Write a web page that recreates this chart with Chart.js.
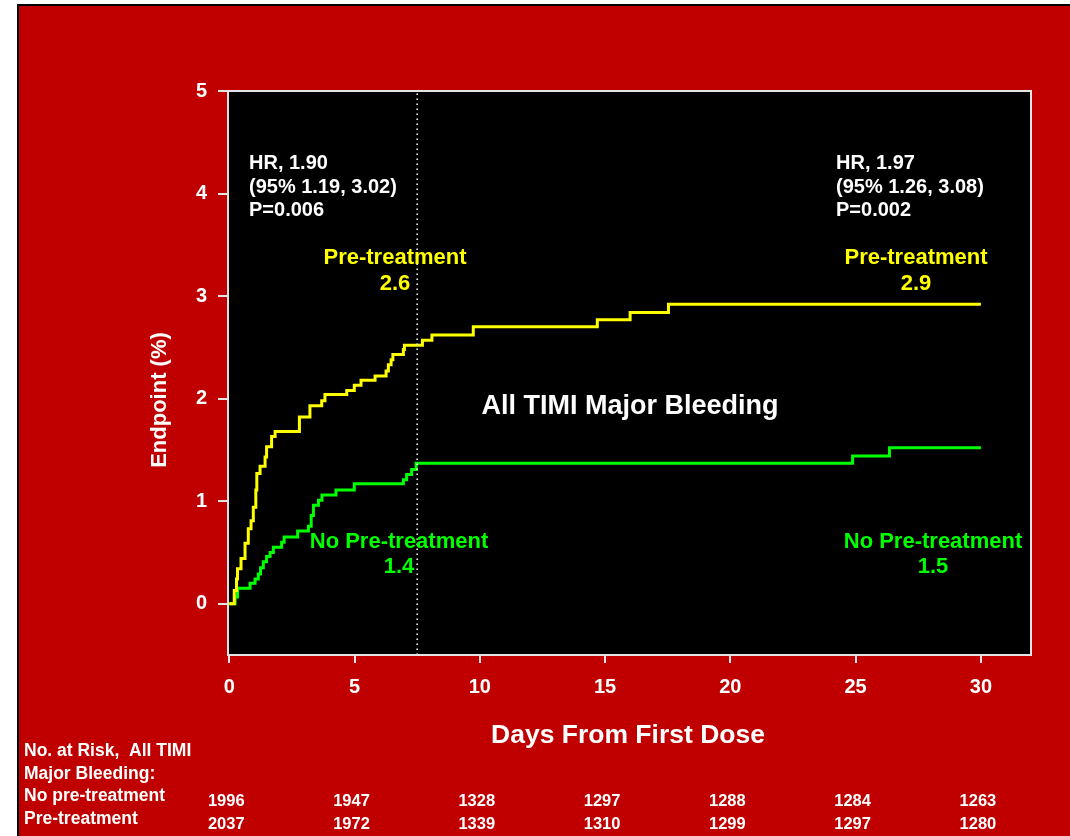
<!DOCTYPE html>
<html>
<head>
<meta charset="utf-8">
<title>All TIMI Major Bleeding</title>
<script src="https://cdn.jsdelivr.net/npm/chart.js@4.4.1/dist/chart.umd.min.js"></script>
<style>
    html, body { margin: 0; padding: 0; background: #fff; overflow: hidden; }
    #frame { position: absolute; left: 17px; top: 4px; width: 1070px; height: 840px; background: #c00000; border-left: 2px solid #000; border-top: 2px solid #000; }
    #wrap { position: absolute; left: 0; top: 0; width: 1070px; height: 836px; }
</style>
</head>
<body>
<div id="frame"></div>
<div id="wrap"><canvas id="kmChart" width="1070" height="836"></canvas></div>
<script>
// Kaplan-Meier steps, pre-treatment arm (days, cumulative %)
const preDays = [0, 0.2, 0.29, 0.33, 0.47, 0.63, 0.76, 0.87, 0.96, 1.06, 1.1, 1.23, 1.43, 1.49, 1.69, 1.83,
    2.8, 3.22, 3.69, 3.82, 4.69, 4.99, 5.26, 5.82, 6.26, 6.35, 6.46, 6.53, 6.95, 6.99, 7.71, 8.09,
    9.74, 14.69, 16.0, 17.53, 30];
const preRate = [0, 0.13, 0.24, 0.34, 0.44, 0.59, 0.73, 0.81, 0.94, 1.11, 1.27, 1.34, 1.43, 1.53, 1.63, 1.68,
    1.82, 1.93, 1.98, 2.04, 2.08, 2.13, 2.18, 2.22, 2.27, 2.33, 2.38, 2.43, 2.48, 2.52, 2.57, 2.62,
    2.7, 2.77, 2.84, 2.92, 2.92];

// no pre-treatment arm
const noPreDays = [0, 0.23, 0.33, 0.83, 1.03, 1.16, 1.25, 1.36, 1.49, 1.63, 1.76, 2.09, 2.19, 2.73,
    3.16, 3.27, 3.36, 3.56, 3.7, 4.26, 4.99, 6.95, 7.08, 7.28, 7.46, 24.88, 26.35, 30];
const noPreRate = [0, 0.065, 0.15, 0.2, 0.24, 0.29, 0.35, 0.41, 0.46, 0.5, 0.55, 0.6, 0.65, 0.71,
    0.755, 0.86, 0.96, 1.01, 1.06, 1.11, 1.17, 1.21, 1.26, 1.31, 1.37, 1.44, 1.52, 1.52];

const xTicks = [0, 5, 10, 15, 20, 25, 30];
const yTicks = [0, 1, 2, 3, 4, 5];
const cutoffDay = 7.5;

// numbers at risk
const riskDays = [0, 5, 10, 15, 20, 25, 30];
const riskNoPre = [1996, 1947, 1328, 1297, 1288, 1284, 1263];
const riskPre = [2037, 1972, 1339, 1310, 1299, 1297, 1280];

const FONT = '"Liberation Sans", Arial, Helvetica, sans-serif';
const YELLOW = '#ffff00';
const GREEN = '#00ff00';

function toPoints(days, vals) {
    return days.map((d, i) => ({ x: d, y: vals[i] }));
}

function text(ctx, s, x, y, size, color, align) {
    ctx.font = 'bold ' + size + 'px ' + FONT;
    ctx.fillStyle = color;
    ctx.textAlign = align || 'center';
    ctx.textBaseline = 'middle';
    ctx.fillText(s, x, y);
}

const kmDecor = {
    id: 'kmDecor',
    beforeDraw(chart) {
        const { ctx, chartArea: a } = chart;
        ctx.save();
        ctx.fillStyle = '#000';
        ctx.fillRect(a.left, a.top, a.right - a.left, a.bottom - a.top);
        ctx.restore();
    },
    afterDraw(chart) {
        const { ctx, chartArea: a, scales } = chart;
        ctx.save();
        // plot frame
        ctx.strokeStyle = '#e4e4e4';
        ctx.lineWidth = 2;
        ctx.strokeRect(a.left, a.top, a.right - a.left, a.bottom - a.top);

        // hazard ratio boxes
        text(ctx, 'HR, 1.90', 249, 163, 20, '#fff', 'left');
        text(ctx, '(95% 1.19, 3.02)', 249, 187, 20, '#fff', 'left');
        text(ctx, 'P=0.006', 249, 210, 20, '#fff', 'left');
        text(ctx, 'HR, 1.97', 836, 163, 20, '#fff', 'left');
        text(ctx, '(95% 1.26, 3.08)', 836, 187, 20, '#fff', 'left');
        text(ctx, 'P=0.002', 836, 210, 20, '#fff', 'left');

        // arm labels
        text(ctx, 'Pre-treatment', 395, 258, 22, YELLOW);
        text(ctx, '2.6', 395, 284, 22, YELLOW);
        text(ctx, 'Pre-treatment', 916, 258, 22, YELLOW);
        text(ctx, '2.9', 916, 284, 22, YELLOW);
        text(ctx, 'No Pre-treatment', 399, 542, 22, GREEN);
        text(ctx, '1.4', 399, 567, 22, GREEN);
        text(ctx, 'No Pre-treatment', 933, 542, 22, GREEN);
        text(ctx, '1.5', 933, 567, 22, GREEN);

        text(ctx, 'All TIMI Major Bleeding', 630, 407, 27, '#fff');

        // axis titles
        text(ctx, 'Days From First Dose', 628, 736, 26.5, '#fff');
        ctx.save();
        ctx.translate(160, 400);
        ctx.rotate(-Math.PI / 2);
        text(ctx, 'Endpoint (%)', 0, 0, 22, '#fff');
        ctx.restore();

        // numbers at risk table
        text(ctx, 'No. at Risk,  All TIMI', 24, 751, 17.5, '#fff', 'left');
        text(ctx, 'Major Bleeding:', 24, 774, 17.5, '#fff', 'left');
        text(ctx, 'No pre-treatment', 24, 796, 17.5, '#fff', 'left');
        text(ctx, 'Pre-treatment', 24, 819, 17.5, '#fff', 'left');
        riskDays.forEach((d, i) => {
            const px = scales.x.getPixelForValue(d) - 3;
            text(ctx, String(riskNoPre[i]), px, 801, 16.5, '#fff');
            text(ctx, String(riskPre[i]), px, 824, 16.5, '#fff');
        });
        ctx.restore();
    }
};

document.addEventListener('DOMContentLoaded', function() {
    const ctx = document.getElementById('kmChart').getContext('2d');
    new Chart(ctx, {
        type: 'line',
        data: {
            datasets: [{
                label: 'Day 7.5 landmark',
                data: [{ x: cutoffDay, y: -0.5 }, { x: cutoffDay, y: 5 }],
                borderColor: '#ffffff',
                borderWidth: 1.5,
                borderDash: [1.5, 3.5],
                pointRadius: 0
            }, {
                label: 'Pre-treatment',
                data: toPoints(preDays, preRate),
                borderColor: YELLOW,
                borderWidth: 3,
                stepped: true,
                pointRadius: 0
            }, {
                label: 'No Pre-treatment',
                data: toPoints(noPreDays, noPreRate),
                borderColor: GREEN,
                borderWidth: 3,
                stepped: true,
                pointRadius: 0
            }]
        },
        options: {
            responsive: false,
            animation: false,
            layout: { padding: { top: 91, right: 39, left: 0, bottom: 0 } },
            plugins: {
                legend: { display: false },
                tooltip: { enabled: false }
            },
            scales: {
                x: {
                    type: 'linear',
                    min: -0.05,
                    max: 32,
                    afterBuildTicks: s => { s.ticks = xTicks.map(v => ({ value: v })); },
                    afterFit: s => { s.height = 181; },
                    grid: { drawOnChartArea: false, color: '#e4e4e4', lineWidth: 2, tickLength: 8 },
                    border: { display: false },
                    ticks: {
                        color: '#fff',
                        font: { family: FONT, size: 20, weight: 'bold' },
                        padding: 12,
                        maxRotation: 0
                    }
                },
                y: {
                    type: 'linear',
                    min: -0.5,
                    max: 5,
                    afterBuildTicks: s => { s.ticks = yTicks.map(v => ({ value: v })); },
                    afterFit: s => { s.width = 228; },
                    grid: { drawOnChartArea: false, color: '#e4e4e4', lineWidth: 2, tickLength: 10 },
                    border: { display: false },
                    ticks: {
                        color: '#fff',
                        font: { family: FONT, size: 20, weight: 'bold' },
                        padding: 11
                    }
                }
            }
        },
        plugins: [kmDecor]
    });
});
</script>
</body>
</html>
